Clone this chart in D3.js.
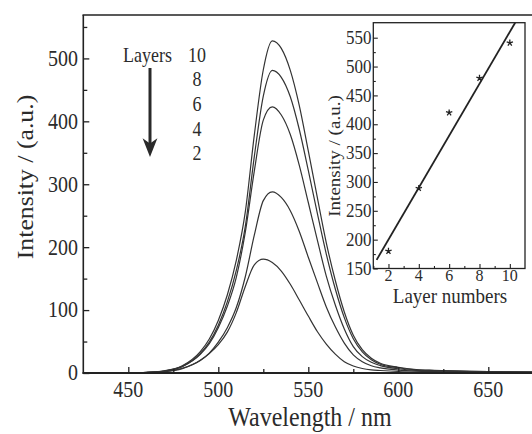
<!DOCTYPE html>
<html><head><meta charset="utf-8">
<script src="https://cdn.jsdelivr.net/npm/d3@7"></script>
<style>
body{margin:0;background:#fff}
svg{display:block}
text{font-family:"Liberation Serif","Times New Roman",serif;fill:#2b2b2b}
</style>
</head><body>
<svg id="c" width="532" height="434"></svg>
<script>
// ---- data ----
const wavelength = [425,440,450,460,470,480,490,495,500,505,510,515,520,525,530,535,540,545,550,555,560,565,570,575,580,585,590,600,610,620,640,660,675];
const layers10 = [0,0,0.2,1,3.4,11.5,34,54,83.6,124,179,256,378,482,528,516,481,425,353,279,207,147,97,60,37,23.4,15.4,9.1,5.6,4.3,2.7,1.9,1.6];
const layers8  = [0,0,0.2,0.9,3.1,10.5,31,49,76,113,163,233,344,440,481,470,439,387,322,254,189,133.5,88,54.5,33.7,21.2,14,8.3,5.1,4,2.5,1.7,1.4];
const layers6  = [0,0,0.2,0.8,3,10.2,29.6,46.5,72,106,152,224,321,402,423,410,379,330,271,211.5,154,108,70,42,26,17,11.8,6.8,4.2,3.4,2.1,1.5,1.3];
const layers4  = [0,0,0.1,0.6,2,6.9,20.2,31.7,49,72,104,153,219,274,288,279,258,225,184,144,105,73.4,47.5,28.8,17.9,11.5,8.1,4.6,2.9,2.3,1.4,1,0.9];
const layers2  = [0,0.1,0.2,0.8,2.4,7.6,19.9,30.8,45,65,96,137.6,172,181,175.6,162,141,116,90.5,66,46,30,18,11.2,7.2,5,4,2.4,1.6,1.3,0.8,0.6,0.5];
const seriesList = [layers10, layers8, layers6, layers4, layers2];
const legendLayers = ["10","8","6","4","2"];

const xTicks = [450,500,550,600,650];
const xMinor = [475,525,575,625];
const yTicks = [0,100,200,300,400,500];
const yMinor = [50,150,250,350,450,550];

const insetLayers = [2,4,6,8,10];
const insetIntensity = [180,289,420,480,541];
const insetXTicks = [2,4,6,8,10];
const insetXMinor = [1,3,5,7,9];
const insetYTicks = [150,200,250,300,350,400,450,500,550];
const insetYMinor = [175,225,275,325,375,425,475,525];
const fitLayers = [1.22,10.35];
const fitIntensity = [165,576];

// ---- drawing ----
const svg = d3.select("#c");
const ink = "#222";
const SY = 1.12; // vertical stretch of the scanned lettering

function hText(g, str, x, y, size, anchor, sy){
  return g.append("text").text(str)
    .attr("text-anchor", anchor||"start")
    .attr("font-size", size)
    .attr("transform", `translate(${x},${y}) scale(1,${sy||SY})`);
}

// main scales
const x = d3.scaleLinear([425,675],[83.3,533.3]);
const y = d3.scaleLinear([0,569],[373,15]);

const main = svg.append("g");

// curves
const line = d3.line().x((d,i)=>x(wavelength[i])).y(d=>y(d)).curve(d3.curveMonotoneX);
main.selectAll("path.curve").data(seriesList).join("path")
  .attr("class","curve").attr("d", d=>line(d))
  .attr("fill","none").attr("stroke","#333").attr("stroke-width",1.2);

// axes ticks
function tickAxis(axisFn, scale, values, size, tf){
  const g = main.append("g").attr("transform", tf)
    .call(axisFn(scale).tickValues(values).tickSize(size).tickFormat(""));
  g.select(".domain").remove();
  g.selectAll("line").attr("stroke", ink).attr("stroke-width",1.3);
}
tickAxis(d3.axisBottom, x, xTicks, -6, "translate(0,373)");
tickAxis(d3.axisBottom, x, xMinor, -4, "translate(0,373)");
tickAxis(d3.axisLeft, y, yTicks, -6, "translate(83.3,0)");
tickAxis(d3.axisLeft, y, yMinor, -4, "translate(83.3,0)");

// frame lines
main.append("line").attr("x1",83.3).attr("x2",83.3).attr("y1",15).attr("y2",373.8).attr("stroke",ink).attr("stroke-width",1.6);
main.append("line").attr("x1",82.5).attr("x2",533).attr("y1",373).attr("y2",373).attr("stroke",ink).attr("stroke-width",1.8);
main.append("line").attr("x1",82.5).attr("x2",533).attr("y1",15).attr("y2",15).attr("stroke",ink).attr("stroke-width",1.4);

// tick labels
xTicks.forEach(v=>hText(main, String(v), x(v), 396.5, 20, "middle"));
yTicks.forEach(v=>hText(main, String(v), 78, y(v)+7.4, 20, "end"));

// titles
hText(main, "Wavelength / nm", 310, 426, 24, "middle");
main.append("text").text("Intensity / (a.u.)")
  .attr("text-anchor","middle").attr("font-size",23)
  .attr("transform",`translate(33,177) rotate(-90) scale(${SY},1)`);

// legend
hText(main, "Layers", 123, 61.7, 18, "start");
legendLayers.forEach((s,i)=>hText(main, s, 197, 61.7 + i*24.6, 18, "middle"));
main.append("line").attr("x1",150).attr("x2",150).attr("y1",68).attr("y2",146)
  .attr("stroke","#2a2a2a").attr("stroke-width",3);
main.append("path").attr("d","M150,157 L142.6,138.3 L150,143.5 L157.4,138.3 Z").attr("fill","#2a2a2a");

// ---- inset ----
const xi = d3.scaleLinear([1,11],[373.3,525]);
const yi = d3.scaleLinear([150,576],[268.5,22.7]);
const inset = svg.append("g");
svg.append("defs").append("clipPath").attr("id","ic").append("rect")
  .attr("x",373.3).attr("y",22.7).attr("width",525-373.3).attr("height",268.5-22.7);

function insetAxis(axisFn, scale, values, size, tf){
  const g = inset.append("g").attr("transform", tf)
    .call(axisFn(scale).tickValues(values).tickSize(size).tickFormat(""));
  g.select(".domain").remove();
  g.selectAll("line").attr("stroke", ink).attr("stroke-width",1.1);
}
insetAxis(d3.axisBottom, xi, insetXTicks, -4.5, "translate(0,268.5)");
insetAxis(d3.axisBottom, xi, insetXMinor, -2.5, "translate(0,268.5)");
insetAxis(d3.axisLeft, yi, insetYTicks, -4.5, "translate(373.3,0)");
insetAxis(d3.axisLeft, yi, insetYMinor, -2.5, "translate(373.3,0)");

inset.append("rect").attr("x",373.3).attr("y",22.7).attr("width",525-373.3).attr("height",268.5-22.7)
  .attr("fill","none").attr("stroke",ink).attr("stroke-width",1.3);

// fit line
inset.append("path").attr("clip-path","url(#ic)")
  .attr("d", d3.line().x((d,i)=>xi(d)).y((d,i)=>yi(fitIntensity[i]))(fitLayers))
  .attr("stroke","#222").attr("stroke-width",1.8).attr("fill","none");

// asterisk markers
const asterisk = {draw(ctx, size){ const r=Math.sqrt(size);
  for(let i=0;i<5;i++){ const a=-Math.PI/2+i*2*Math.PI/5; ctx.moveTo(0,0); ctx.lineTo(r*Math.cos(a), r*Math.sin(a)); } }};
inset.selectAll("path.pt").data(insetLayers).join("path").attr("class","pt")
  .attr("transform",(d,i)=>`translate(${xi(d)},${yi(insetIntensity[i])})`)
  .attr("d", d3.symbol().type(asterisk).size(11)())
  .attr("stroke","#222").attr("stroke-width",1.3).attr("fill","none");

// inset labels
insetXTicks.forEach(v=>hText(inset, String(v), xi(v), 281, 16, "middle", 1.08));
insetYTicks.forEach(v=>hText(inset, String(v), 371.5, yi(v)+6.2, 17, "end"));
hText(inset, "Layer numbers", 450, 303, 19, "middle", 1.05);
inset.append("text").text("Intensity / (a.u.)")
  .attr("text-anchor","middle").attr("font-size",17)
  .attr("transform",`translate(340,156) rotate(-90) scale(${SY},1)`);
</script>
</body></html>
